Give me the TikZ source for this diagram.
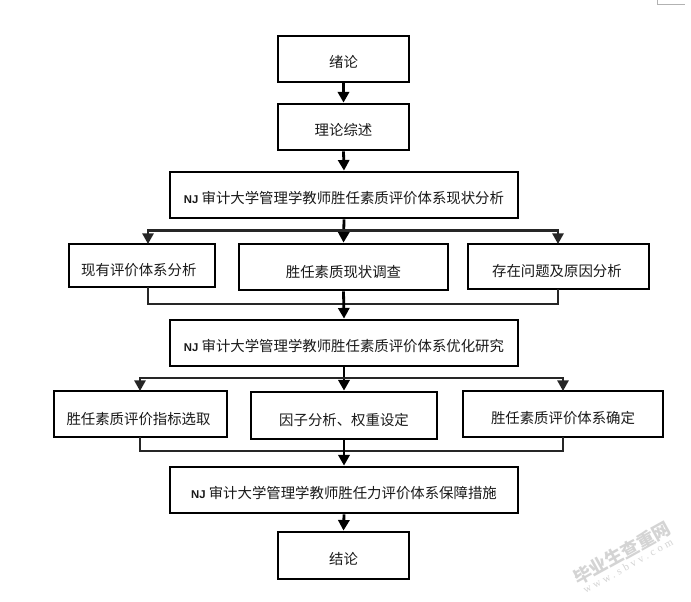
\documentclass[tikz,border=0pt]{standalone}
\usepackage{fontspec}
\setmainfont{Noto Sans CJK SC}
\newfontfamily\latinbold{Liberation Sans}
\newfontfamily\wmlatin[LetterSpace=30]{Liberation Serif}
\usetikzlibrary{arrows.meta,calc}
\tikzset{
  box/.style={draw=black,line width=2.1pt,fill=white,inner sep=0pt,font=\fontsize{10.8pt}{13pt}\selectfont,text=black!90},
  link/.style={draw=black!85,line width=1.6pt},
  trunk/.style={draw=black,line width=2.1pt},
  arr/.style={trunk,-{Triangle[width=8.4pt,length=8pt]}},
  sidearr/.style={link,-{Triangle[width=8.4pt,length=8pt]}},
  cornermark/.style={draw=black!30,line width=0.6pt},
  wm/.style={text=black!17,rotate=29,inner sep=0pt}
}
% name x0 y0 x1 y1 dx dy text  (dx, dy in pt: text offset inside the box)
\newcommand{\boxat}[8]{%
  \node[box,minimum width={(#4-#2)*0.75pt},minimum height={(#5-#3)*0.75pt}] (#1) at ({(#2+#4)/2},{(#3+#5)/2})
   {\makebox[0pt]{\hspace*{#6pt}\raisebox{\dimexpr-3.9pt-#7pt\relax}[0pt][0pt]{#8}\hspace*{-#6pt}}};}
\newcommand{\NJ}{{\latinbold\bfseries\fontsize{8.5pt}{10pt}\selectfont NJ}\hspace{0.22em}}
\begin{document}
\begin{tikzpicture}[x=0.75pt,y=-0.75pt]
\useasboundingbox (0,0) rectangle (691,601);
\fill[white] (0,0) rectangle (691,601);
\boxat{a}{278}{36}{409}{82}{0}{2.6}{绪论}
\boxat{b}{278}{104}{409}{150}{0}{2.6}{理论综述}
\boxat{c}{170}{172}{518}{218}{0}{2.6}{\NJ 审计大学管理学教师胜任素质评价体系现状分析}
\boxat{d}{69}{244}{215}{287}{-2.4}{3.6}{现有评价体系分析}
\boxat{e}{239}{244}{448}{290}{0}{3.6}{胜任素质现状调查}
\boxat{f}{468}{244}{649}{289}{-1.2}{3.4}{存在问题及原因分析}
\boxat{g}{170}{320}{518}{366}{0}{2.8}{\NJ 审计大学管理学教师胜任素质评价体系优化研究}
\boxat{h}{54}{391}{227}{437}{-1.5}{3.6}{胜任素质评价指标选取}
\boxat{i}{251}{392}{437}{439}{0}{3.8}{因子分析、权重设定}
\boxat{j}{463}{391}{663}{437}{0}{3.0}{胜任素质评价体系确定}
\boxat{k}{170}{467}{518}{513}{0}{2.8}{\NJ 审计大学管理学教师胜任力评价体系保障措施}
\boxat{l}{278}{532}{409}{579}{0}{3.0}{结论}
% simple links
\draw[arr] (a.south) -- (b.north);
\draw[arr] (b.south) -- (c.north);
\draw[arr] (k.south) -- (l.north);
% first split
\coordinate (s1) at (343.5,230.5);
\coordinate (dn) at (148,244);
\coordinate (fn) at (558,244);
\draw[arr] (c.south) -- (e.north);
\draw[sidearr] (s1) -| (dn);
\draw[sidearr] (s1) -| (fn);
% first merge
\coordinate (m1) at (343.5,304);
\coordinate (ds) at (148,287);
\coordinate (fs) at (558,289);
\draw[link] (ds) |- (m1);
\draw[link] (fs) |- (m1);
\draw[arr] (e.south) -- (g.north);
% second split
\coordinate (s2) at (343.5,378);
\coordinate (hn) at (140,391);
\coordinate (jn) at (563,391);
\draw[arr] (g.south) -- (i.north);
\draw[sidearr] (s2) -| (hn);
\draw[sidearr] (s2) -| (jn);
% second merge
\coordinate (m2) at (343.5,451);
\coordinate (hs) at (140,437);
\coordinate (js) at (563,437);
\draw[link] (hs) |- (m2);
\draw[link] (js) |- (m2);
\draw[arr] (i.south) -- (k.north);
% corner mark
\coordinate (p1) at (657,0);
\coordinate (p2) at (685,4);
\draw[cornermark] (p1) |- (p2);
% watermark
\node[wm,font=\fontsize{13.5pt}{15pt}\selectfont\bfseries] (w1) at (622,553) {毕业生查重网};
\node[wm,font=\wmlatin\fontsize{8pt}{9pt}\selectfont] (w2) at (628,566) {www.sbvv.com};
\end{tikzpicture}
\end{document}
